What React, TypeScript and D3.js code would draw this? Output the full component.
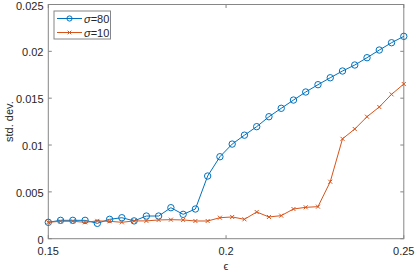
import React from "react";
import * as d3 from "d3";

const epsValues: number[] = Array.from({ length: 30 }, (_, i) => 0.15 + (i * 0.1) / 29);
const sigma80: number[] = [
  0.00175, 0.00196, 0.00196, 0.00196, 0.00164, 0.00207, 0.00224, 0.0019, 0.00242, 0.00242,
  0.00331, 0.0026, 0.00317, 0.00669, 0.00875, 0.0101, 0.01105, 0.01196, 0.01302, 0.01392,
  0.0148, 0.01566, 0.01644, 0.01718, 0.0179, 0.01854, 0.01932, 0.02014, 0.02092, 0.0216,
];
const sigma10: number[] = [
  0.00175, 0.00186, 0.00186, 0.00175, 0.0019, 0.00186, 0.00175, 0.0019, 0.0019, 0.002,
  0.00203, 0.002, 0.00189, 0.00189, 0.00224, 0.00232, 0.00207, 0.00285, 0.00232, 0.00246,
  0.00317, 0.00335, 0.00342, 0.00608, 0.01066, 0.01171, 0.01302, 0.01406, 0.01541, 0.01651,
];
const xTicks: number[] = [0.15, 0.2, 0.25];
const yTicks: number[] = [0, 0.005, 0.01, 0.015, 0.02, 0.025];
const seriesNames: string[] = ["80", "10"];

const W = 415;
const H = 273;
const left = 48.3;
const right = 403.8;
const top = 4.5;
const bottom = 238.7;

const BLUE = "#0072BD";
const ORANGE = "#D95319";
const AXIS = "#868686";
const TEXT = "#262626";
const FONT = "'Liberation Sans', Arial, Helvetica, sans-serif";

export default function App() {
  const x = d3.scaleLinear().domain([0.15, 0.25]).range([left, right]);
  const y = d3.scaleLinear().domain([0, 0.025]).range([bottom, top]);
  const line = d3
    .line<number>()
    .x((_, i) => x(epsValues[i]))
    .y((d) => y(d));

  const fmt = (v: number) => (v === 0 ? "0" : String(+v.toFixed(3)));
  const tickLen = 3.5;

  const cross = (cx: number, cy: number, s: number) =>
    `M${cx - s},${cy - s}L${cx + s},${cy + s}M${cx - s},${cy + s}L${cx + s},${cy - s}`;

  return (
    <svg
      width={W}
      height={H}
      style={{ position: "absolute", left: 0, top: 0, background: "#fff" }}
      fontFamily={FONT}
    >
      <rect x={0} y={0} width={W} height={H} fill="#fff" />
      {/* ticks */}
      {xTicks.map((t) => (
        <g key={"xt" + t}>
          <line x1={x(t)} x2={x(t)} y1={bottom} y2={bottom - tickLen} stroke={AXIS} strokeWidth={1} />
          <line x1={x(t)} x2={x(t)} y1={top} y2={top + tickLen} stroke={AXIS} strokeWidth={1} />
          <text x={x(t)} y={bottom + 16.5} textAnchor="middle" fontSize={11} fill={TEXT}>
            {fmt(t)}
          </text>
        </g>
      ))}
      {yTicks.map((t) => (
        <g key={"yt" + t}>
          <line x1={left} x2={left + tickLen} y1={y(t)} y2={y(t)} stroke={AXIS} strokeWidth={1} />
          <line x1={right} x2={right - tickLen} y1={y(t)} y2={y(t)} stroke={AXIS} strokeWidth={1} />
          <text x={43.5} y={y(t) + 5} textAnchor="end" fontSize={11} fill={TEXT}>
            {fmt(t)}
          </text>
        </g>
      ))}
      {/* box */}
      <rect x={left} y={top} width={right - left} height={bottom - top} fill="none" stroke={AXIS} strokeWidth={1} />

      {/* series */}
      <path d={line(sigma80) || ""} fill="none" stroke={BLUE} strokeWidth={1} />
      {sigma80.map((v, i) => (
        <circle key={"c" + i} cx={x(epsValues[i])} cy={y(v)} r={3.2} fill="none" stroke={BLUE} strokeWidth={1} />
      ))}
      <path d={line(sigma10) || ""} fill="none" stroke={ORANGE} strokeWidth={1} />
      {sigma10.map((v, i) => (
        <path key={"x" + i} d={cross(x(epsValues[i]), y(v), 2)} stroke={ORANGE} strokeWidth={1} fill="none" />
      ))}

      {/* axis labels */}
      <text x={x(0.2)} y={270} textAnchor="middle" fontSize={11} fill={TEXT}>
        ϵ
      </text>
      <text
        transform={`translate(12.5, ${(top + bottom) / 2}) rotate(-90)`}
        textAnchor="middle"
        fontSize={11}
        fill={TEXT}
      >
        std. dev.
      </text>

      {/* legend */}
      <rect x={54} y={11} width={56.5} height={28} fill="#fff" stroke={AXIS} strokeWidth={1} />
      {seriesNames.map((name, i) => {
        const ly = 18.5 + i * 14;
        const color = i === 0 ? BLUE : ORANGE;
        return (
          <g key={"lg" + i}>
            <line x1={57} x2={82} y1={ly} y2={ly} stroke={color} strokeWidth={1} />
            {i === 0 ? (
              <circle cx={69.5} cy={ly} r={2.6} fill="none" stroke={color} strokeWidth={1} />
            ) : (
              <path d={cross(69.5, ly, 1.8)} stroke={color} strokeWidth={1} fill="none" />
            )}
            <text x={84} y={ly + 4} fontSize={11} fill={TEXT}>
              <tspan fontStyle="italic">σ</tspan>={name}
            </text>
          </g>
        );
      })}
    </svg>
  );
}
